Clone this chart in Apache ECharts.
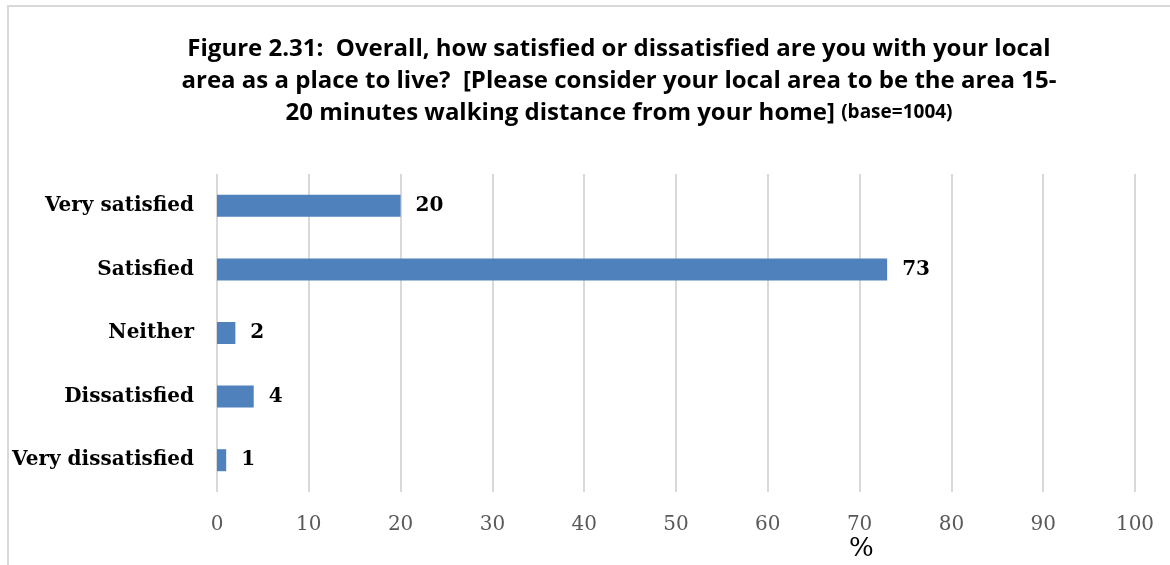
<!DOCTYPE html>
<html>
<head>
<meta charset="utf-8">
<script src="https://cdn.jsdelivr.net/npm/echarts@6/dist/echarts.min.js"></script>
<style>
  html, body { margin: 0; padding: 0; background: #fff; overflow: hidden; }
  #marco { position: absolute; left: 7px; top: 5px; width: 1163px; height: 560px;
           border-left: 2px solid #d9d9d9; border-top: 2px solid #d9d9d9; box-sizing: border-box; }
  #chart { position: absolute; left: 0; top: 0; width: 1170px; height: 565px; }
</style>
</head>
<body>
<div id="marco"></div>
<div id="chart"></div>
<script>
// categorías de arriba hacia abajo
const categorias = ['Very satisfied', 'Satisfied', 'Neither', 'Dissatisfied', 'Very dissatisfied'];
const valores = [20, 73, 2, 4, 1];
const titulo = 'Figure 2.31:  Overall, how satisfied or dissatisfied are you with your local\narea as a place to live?  [Please consider your local area to be the area 15-\n20 minutes walking distance from your home] {s|(base=1004)}';

const fuenteSerif = '"DejaVu Serif", "Liberation Serif", serif';
const fuenteTitulo = '"Open Sans", Lato, sans-serif';

const chart = echarts.init(document.getElementById('chart'));

const option = {
  animation: false,
  title: {
    text: titulo,
    left: 614,
    textAlign: 'center',
    top: 28,
    textStyle: {
      fontFamily: fuenteTitulo,
      fontWeight: 'bold',
      fontSize: 24,
      lineHeight: 32,
      color: '#000',
      rich: {
        s: { fontFamily: fuenteTitulo, fontWeight: 'bold', fontSize: 19, color: '#000' }
      }
    }
  },
  graphic: [{
    type: 'text',
    left: 849,
    top: 536,
    style: { text: '%', font: '26px ' + fuenteSerif, fill: '#000' }
  }],
  grid: {
    left: 217,
    right: 35,
    top: 174,
    bottom: 73,
    containLabel: false
  },
  xAxis: {
    type: 'value',
    min: 0,
    max: 100,
    interval: 10,
    axisLine: { show: false },
    axisTick: { show: false },
    axisLabel: { fontFamily: fuenteSerif, fontSize: 20, color: '#595959', margin: 23 },
    splitLine: { lineStyle: { color: '#d9d9d9', width: 2 } }
  },
  yAxis: {
    type: 'category',
    inverse: true,
    data: categorias,
    axisLine: { show: false },
    axisTick: { show: false },
    axisLabel: { fontFamily: fuenteSerif, fontWeight: 'bold', fontSize: 20, color: '#000', margin: 23 }
  },
  series: [{
    type: 'bar',
    data: valores,
    barWidth: 22,
    itemStyle: { color: '#4f81bd' },
    label: {
      show: true,
      position: 'right',
      distance: 15,
      fontFamily: fuenteSerif,
      fontWeight: 'bold',
      fontSize: 20,
      color: '#000'
    }
  }]
};

chart.setOption(option);
</script>
</body>
</html>
